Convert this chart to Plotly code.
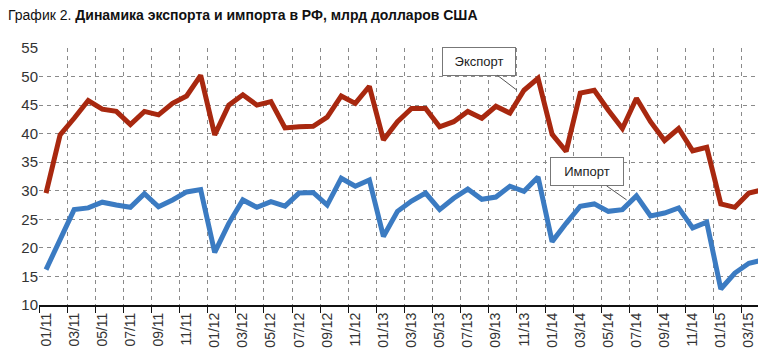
import plotly.graph_objects as go

months = [f"{m:02d}/{y}" for y in (11, 12, 13, 14, 15) for m in range(1, 13)][:52]

export = [29.6, 39.8, 42.7, 45.8, 44.3, 43.9, 41.6, 43.9, 43.3, 45.3, 46.6, 50.2,
          39.8, 45.0, 46.8, 45.0, 45.6, 41.0, 41.2, 41.3, 42.9, 46.6, 45.3, 48.3,
          38.9, 42.1, 44.4, 44.4, 41.2, 42.1, 43.9, 42.7, 44.8, 43.6, 47.6, 49.7,
          39.9, 36.9, 47.1, 47.6, 44.1, 40.9, 46.2, 42.1, 38.8, 40.9, 37.0, 37.6,
          27.7, 27.1, 29.6, 30.2]
imports = [16.2, 21.4, 26.7, 27.0, 28.0, 27.5, 27.1, 29.5, 27.2, 28.4, 29.8, 30.2,
           19.2, 24.3, 28.4, 27.1, 28.1, 27.3, 29.6, 29.7, 27.5, 32.2, 30.8, 31.9,
           22.0, 26.4, 28.2, 29.6, 26.7, 28.7, 30.3, 28.5, 28.9, 30.8, 29.9, 32.4,
           21.1, 24.3, 27.3, 27.7, 26.4, 26.7, 29.1, 25.6, 26.1, 27.0, 23.5, 24.5,
           12.8, 15.6, 17.3, 17.9]

y_ticks = [10, 15, 20, 25, 30, 35, 40, 45, 50, 55]

EXPORT_COLOR = "#A8280F"
IMPORT_COLOR = "#3B7BC2"
FONT = "Liberation Sans, Arial, sans-serif"

idx = list(range(len(months)))

fig = go.Figure()
fig.add_trace(go.Scatter(x=idx, y=export, mode="lines", name="Экспорт",
                         line=dict(color=EXPORT_COLOR, width=5)))
fig.add_trace(go.Scatter(x=idx, y=imports, mode="lines", name="Импорт",
                         line=dict(color=IMPORT_COLOR, width=5)))

label_pos = idx[::2]
fig.update_xaxes(
    range=[-0.5, len(months) - 0.5],
    tickmode="array", tickvals=label_pos, ticktext=[months[i] for i in label_pos],
    tickangle=-90, ticks="", showgrid=False, zeroline=False,
    showline=True, linecolor="#111", linewidth=2,
    tickfont=dict(family=FONT, size=14, color="#333"),
    minor=dict(tickmode="array", tickvals=[i - 0.5 for i in idx[::2]] + [len(months) - 0.5],
               ticks="outside", ticklen=6, tickcolor="#111", tickwidth=1,
               showgrid=True, gridcolor="#8a8a8a", gridwidth=1, griddash="4px,4px"),
)
fig.update_yaxes(
    range=[10, 55], tickmode="array", tickvals=y_ticks,
    showgrid=True, gridcolor="#8a8a8a", gridwidth=1, griddash="4px,4px",
    zeroline=False, showline=False, ticks="",
    tickfont=dict(family=FONT, size=15, color="#333"),
)

fig.add_annotation(x=33.5, y=47.6, text="Экспорт", showarrow=True, arrowhead=0,
                   arrowwidth=1, arrowcolor="#555", ax=-38, ay=-29,
                   bgcolor="white", bordercolor="#777", borderwidth=1,
                   width=70, height=25,
                   font=dict(family=FONT, size=13, color="#222"))
fig.add_annotation(x=41.3, y=28.4, text="Импорт", showarrow=True, arrowhead=0,
                   arrowwidth=1, arrowcolor="#555", ax=-40, ay=-28,
                   bgcolor="white", bordercolor="#777", borderwidth=1,
                   width=70, height=25,
                   font=dict(family=FONT, size=13, color="#222"))

fig.update_layout(
    width=766, height=351,
    margin=dict(l=31, r=4, t=40, b=54),
    paper_bgcolor="white", plot_bgcolor="white",
    showlegend=False,
    title=dict(text="График 2. <b>Динамика экспорта и импорта в РФ, млрд долларов США</b>",
               xref="container", x=0, xanchor="left", yref="container", y=0.995, yanchor="top",
               font=dict(family=FONT, size=14, color="#111")),
)

fig.write_html("out.html")
